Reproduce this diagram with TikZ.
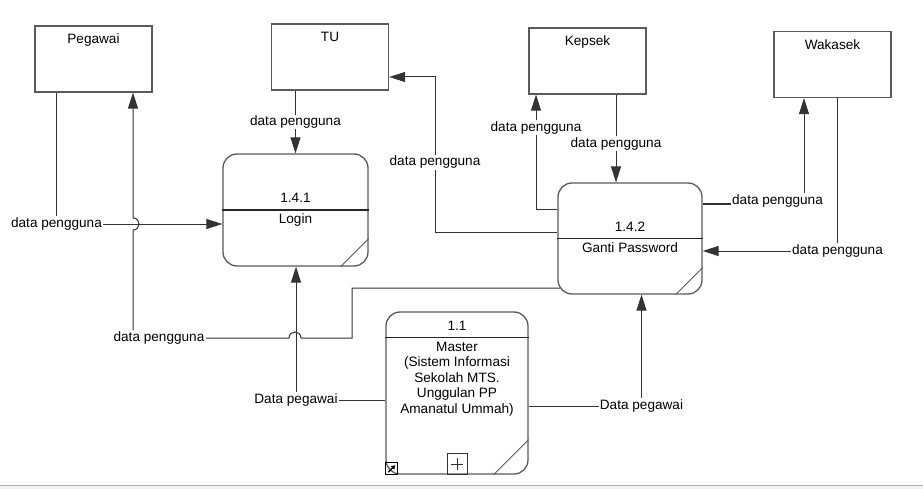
\documentclass[tikz,border=0pt]{standalone}
\usepackage{fontspec}
\setmainfont{Liberation Sans}
\usetikzlibrary{arrows.meta,positioning,calc}
\definecolor{dfdgray}{HTML}{5A5A5A}
\tikzset{
  dfd/entity/.style={draw=dfdgray, line width=1.3pt, minimum width=117pt, minimum height=66pt, inner sep=0pt},
  dfd/process/.style={draw=dfdgray, line width=1.3pt, rounded corners=14pt, inner sep=0pt},
  dfd/divider/.style={draw=black!85, line width=1.1pt},
  dfd/line/.style={draw=black!80, line width=1pt},
  dfd/flow/.style={dfd/line, -{Triangle[length=16pt,width=10pt]}},
  dfd/label/.style={fill=white, inner sep=1pt},
  dfd/text/.style={inner sep=1pt, align=center}
}
\begin{document}
\begin{tikzpicture}[x=1pt, y=-1pt, font=\fontsize{13.6pt}{15.5pt}\selectfont]
  \useasboundingbox (0,0) rectangle (923,489);
  \fill[white] (0,0) rectangle (923,489);
  % window edge
  \fill[gray!10] (0,485) rectangle (923,489);
  \draw[gray!60] (0,485) -- (923,485);

  % external entities
  \node[dfd/entity] (pegawai) at (93.5,59) {};
  \node[below=5pt of pegawai.north] (pegawainame) {Pegawai};
  \node[dfd/entity] (tu) at (330,57) {};
  \node[below=5pt of tu.north] (tuname) {TU};
  \node[dfd/entity] (kepsek) at (587.5,61) {};
  \node[below=5pt of kepsek.north] (kepsekname) {Kepsek};
  \node[dfd/entity] (wakasek) at (832.5,64.5) {};
  \node[below=5pt of wakasek.north] (wakasekname) {Wakasek};

  % processes
  \node[dfd/process, minimum width=145pt, minimum height=112pt] (login) at (295.5,210) {};
  \draw[dfd/divider] (login.west) -- (login.east);
  \draw[dfdgray, line width=0.8pt] ([yshift=28pt]login.south east) -- ([xshift=-28pt]login.south east);
  \node[dfd/text] (loginid) at (295.5,198) {1.4.1};
  \node[dfd/text] (loginname) at (295.5,220) {Login};

  \node[dfd/process, minimum width=144pt, minimum height=111pt] (ganti) at (630,238.5) {};
  \draw[dfd/divider] (ganti.west) -- (ganti.east);
  \draw[dfdgray, line width=0.8pt] ([yshift=27pt]ganti.south east) -- ([xshift=-27pt]ganti.south east);
  \node[dfd/text] (gantiid) at (630,227) {1.4.2};
  \node[dfd/text] (gantiname) at (630,248) {Ganti Password};

  \node[dfd/process, minimum width=142pt, minimum height=162pt] (master) at (457,393) {};
  \draw[dfd/divider] ([yshift=-26pt]master.north west) -- ([yshift=-26pt]master.north east);
  \draw[dfdgray, line width=0.8pt] ([yshift=35pt]master.south east) -- ([xshift=-35pt]master.south east);
  \node[dfd/text] (masterid) at (457,326) {1.1};
  \node[dfd/text] (mastername) at (457,379) {Master\\(Sistem Informasi\\Sekolah MTS.\\Unggulan PP\\Amanatul Ummah)};
  \draw[black, line width=0.8pt] (master.south west) rectangle +(12,-12);
  \draw[black, line width=1.3pt, -{Triangle[length=4pt,width=4.5pt]}] ($(master.south west)+(3,-2.5)$) -- ($(master.south west)+(10,-9.5)$);
  \draw[black!80, line width=0.8pt] ($(master.south)+(-10,0)$) rectangle ($(master.south)+(10,-21)$);
  \draw[black!80, line width=0.8pt] ($(master.south)+(-6,-10.5)$) -- ($(master.south)+(6,-10.5)$)
    ($(master.south)+(0,-4.5)$) -- ($(master.south)+(0,-16.5)$);

  % data flows
  \coordinate (hopa) at (133,224);
  \coordinate (hopb) at (295,338);

  \node[dfd/label] (lblpeglogin) at (56.5,224) {data pengguna};
  \draw[dfd/line] (pegawai.south -| lblpeglogin) -- (lblpeglogin);
  \draw[dfd/flow] (lblpeglogin) -- (lblpeglogin -| login.west);

  \node[dfd/label] (lblgantipeg) at (159,338) {data pengguna};
  \draw[dfd/line] ([xshift=2.5pt]ganti.west |- 0,288) -- (352,288) -- (352,338) -- ([xshift=6pt]hopb)
    .. controls ([xshift=6pt,yshift=8pt]hopb) and ([xshift=-6pt,yshift=8pt]hopb) .. ([xshift=-6pt]hopb)
    -- (lblgantipeg);
  \draw[dfd/flow] (lblgantipeg.north -| hopa) -- ([yshift=-6pt]hopa)
    .. controls ([xshift=8pt,yshift=-6pt]hopa) and ([xshift=8pt,yshift=6pt]hopa) .. ([yshift=6pt]hopa)
    -- (pegawai.south -| hopa);

  \draw[dfd/flow] (login.north |- tu.south) -- node[dfd/label] (lbltulogin) {data pengguna} (login.north);

  \draw[dfd/flow] (ganti.west |- 0,232) -- (435,232)
    -- node[dfd/label, pos=0.45] (lblgantitu) {data pengguna} (435,77) -- (tu.east |- 0,77);

  \draw[dfd/flow] (ganti.west |- 0,209) -- (536,209)
    -- node[dfd/label, pos=0.71] (lblgantikep) {data pengguna} (kepsek.south -| 536,0);

  \draw[dfd/flow] (kepsek.south -| 616,0)
    -- node[dfd/label, pos=0.56] (lblkepganti) {data pengguna} (ganti.north -| 616,0);

  \draw[dfd/flow] (ganti.east |- 0,204) -- (804,204) -- (wakasek.south -| 804,0);
  \node[dfd/label, inner ysep=2pt] (lblgantiwak) at (777.5,201) {data pengguna};

  \node[dfd/label] (lblwakganti) at (837.5,251) {data pengguna};
  \draw[dfd/line] (wakasek.south -| lblwakganti) -- (lblwakganti);
  \draw[dfd/flow] (lblwakganti) -- (lblwakganti -| ganti.east);

  \node[dfd/label] (lblmasterlogin) at (296,400) {Data pegawai};
  \draw[dfd/line] (master.west |- lblmasterlogin) -- (lblmasterlogin);
  \draw[dfd/flow] (lblmasterlogin) -- (lblmasterlogin |- login.south);

  \node[dfd/label] (lblmasterganti) at (641.5,406) {Data pegawai};
  \draw[dfd/line] (master.east |- lblmasterganti) -- (lblmasterganti);
  \draw[dfd/flow] (lblmasterganti) -- (lblmasterganti |- ganti.south);
\end{tikzpicture}
\end{document}
